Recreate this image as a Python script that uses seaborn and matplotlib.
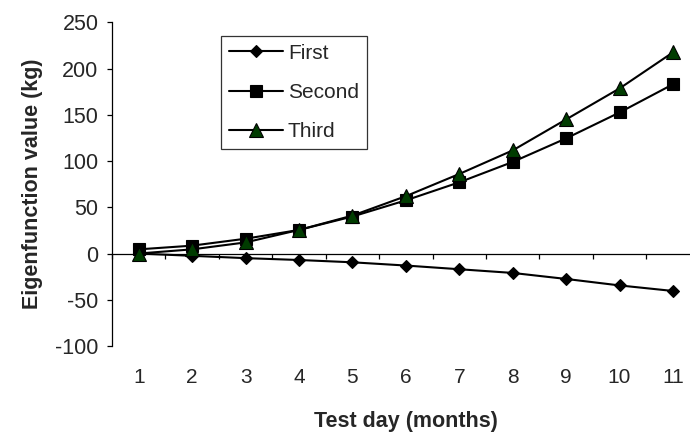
import numpy as np
import pandas as pd
import matplotlib
matplotlib.use("Agg")
import matplotlib.pyplot as plt
import seaborn as sns

# ---- data ----
test_days = [1, 2, 3, 4, 5, 6, 7, 8, 9, 10, 11]
first = [0, -2.5, -5, -7, -9.5, -13, -17, -21, -27.5, -34.5, -40.5]
second = [4.5, 8.5, 16, 25.5, 40, 57.5, 77, 99, 124.5, 152.5, 183]
third = [0, 4.5, 12, 25.5, 41, 62, 86, 111.5, 145, 178.5, 217.5]
series_names = ["First", "Second", "Third"]
y_ticks = [-100, -50, 0, 50, 100, 150, 200, 250]

sns.set_theme(style="white")
plt.rcParams["font.family"] = ["Liberation Sans", "DejaVu Sans"]
plt.rcParams["axes.unicode_minus"] = False

df = pd.DataFrame({
    "day": test_days * 3,
    "value": first + second + third,
    "series": sum([[n] * len(test_days) for n in series_names], []),
})

W, H = 690, 434
fig = plt.figure(figsize=(W / 100, H / 100), dpi=100)
ax = fig.add_axes([112 / W, (H - 346) / H, (699.7 - 112) / W, (346 - 22.3) / H])

styles = {
    "First": dict(marker="D", markersize=6.3, markerfacecolor="black"),
    "Second": dict(marker="s", markersize=8, markerfacecolor="black"),
    "Third": dict(marker="^", markersize=9.5, markerfacecolor="#003c00"),
}
for name in series_names:
    sub = df[df["series"] == name]
    sns.lineplot(data=sub, x="day", y="value", ax=ax, color="black",
                 linewidth=1.5, markeredgecolor="black", markeredgewidth=0.8,
                 label=name, clip_on=False, **styles[name])

ax.set_xlim(0.5, 11.5)
ax.set_ylim(-100, 250)
ax.set_yticks(y_ticks)
ax.set_xticks(test_days)
ax.set_xticklabels([str(d) for d in test_days])

for s in ["top", "right", "bottom"]:
    ax.spines[s].set_visible(False)
ax.spines["left"].set_color("black")
ax.spines["left"].set_linewidth(0.9)

ax.tick_params(axis="y", which="both", left=True, direction="out", length=3.8,
               width=0.9, color="black", labelsize=15.5, pad=6)
ax.tick_params(axis="x", which="both", bottom=True, length=0, labelsize=15, pad=16)

# category axis line through zero with boundary ticks
sec = ax.secondary_xaxis(100 / 350)
sec.set_xticks(np.arange(0.5, 12, 1))
sec.tick_params(direction="out", length=3.8, width=0.9, color="black", labelbottom=False)
sec.spines["bottom"].set_color("black")
sec.spines["bottom"].set_linewidth(0.9)

ax.set_xlabel("Test day (months)", fontsize=15.5, fontweight="bold", labelpad=17)
ax.set_ylabel("Eigenfunction value (kg)", fontsize=15.5, fontweight="bold", labelpad=9)

leg = ax.legend(loc="upper left", bbox_to_anchor=(220.7 / W, 1 - 35.7 / H),
                bbox_transform=fig.transFigure, fontsize=15, frameon=True,
                fancybox=False, shadow=False, handlelength=2.6, handletextpad=0.25,
                labelspacing=0.97, borderpad=0.38, borderaxespad=0)
leg.get_frame().set_edgecolor("black")
leg.get_frame().set_linewidth(0.9)

fig.savefig("out.png", dpi=100)
